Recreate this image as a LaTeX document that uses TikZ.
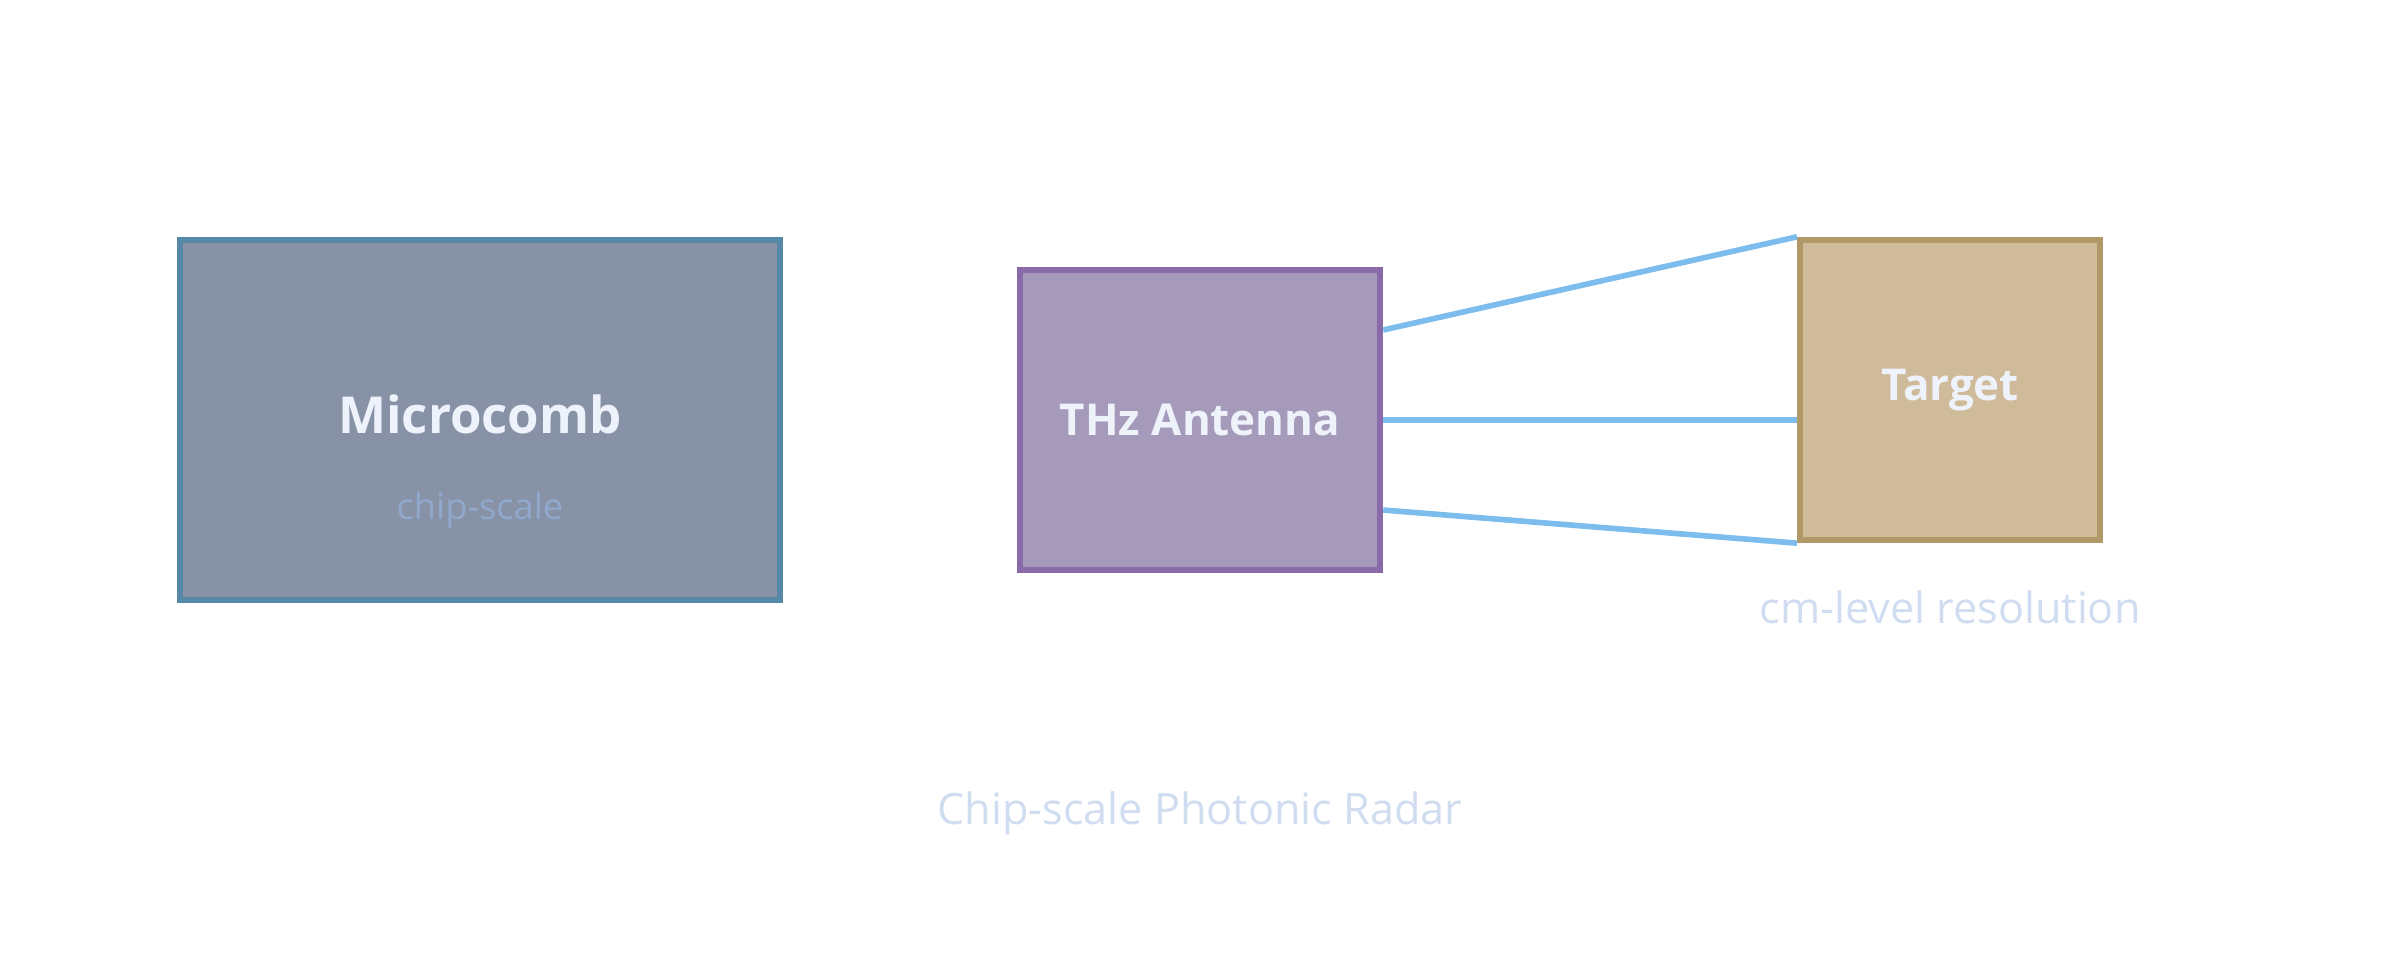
\documentclass[tikz,border=0pt]{standalone}
\usepackage{fontspec}
\setmainfont{Open Sans}
\usepackage{tikz}
\usetikzlibrary{positioning, calc}
\definecolor{ardoise}{RGB}{136,146,166}
\definecolor{ardoisebord}{RGB}{86,136,168}
\definecolor{mauve}{RGB}{166,154,186}
\definecolor{mauvebord}{RGB}{138,106,170}
\definecolor{sable}{RGB}{207,186,154}
\definecolor{sablebord}{RGB}{176,152,104}
\definecolor{ciel}{RGB}{125,189,237}
\definecolor{pale}{RGB}{208,220,240}
\definecolor{blanc}{RGB}{238,242,250}
\definecolor{bleugris}{RGB}{143,168,204}

\begin{document}
\begin{tikzpicture}[
	bloc/.style={draw, line width=1.8pt, inner sep=0pt, text=blanc, font=\bfseries\fontsize{12.5}{15}\selectfont},
	legende/.style={text=pale, inner sep=0pt, font=\fontsize{12.3}{15}\selectfont},
	faisceau/.style={ciel, line width=1.6pt}
	]
	\useasboundingbox (0,0) rectangle (24,9.6);
	
	\node[bloc, fill=ardoise, draw=ardoisebord, minimum width=6cm, minimum height=3.6cm,
		font=\bfseries\fontsize{14.5}{18}\selectfont] (micro) at (4.8,5.4) {\raisebox{1.2mm}{Microcomb}};
	\node[text=bleugris, inner sep=0pt, font=\fontsize{10.3}{12}\selectfont] (microsub) at ($(micro.center)+(0,-0.9)$) {chip-scale};
	
	\node[bloc, fill=mauve, draw=mauvebord, minimum width=3.6cm, minimum height=3cm] (antenne) at (12,5.4) {THz Antenna};
	\node[bloc, fill=sable, draw=sablebord, minimum width=3cm, minimum height=3cm] (cible) at (19.5,5.7) {Target};
	
	% Faisceaux
	\draw[faisceau] ([yshift=0.9cm]antenne.east) -- (cible.north west);
	\draw[faisceau] (antenne.east) -- (antenne.east -| cible.west);
	\draw[faisceau] ([yshift=-0.9cm]antenne.east) -- (cible.south west);
	
	\node[legende] (resol) at ($(cible.south)+(0,-0.64)$) {cm-level resolution};
	\node[legende] (titre) at (12,1.47) {Chip-scale Photonic Radar};
\end{tikzpicture}
\end{document}
